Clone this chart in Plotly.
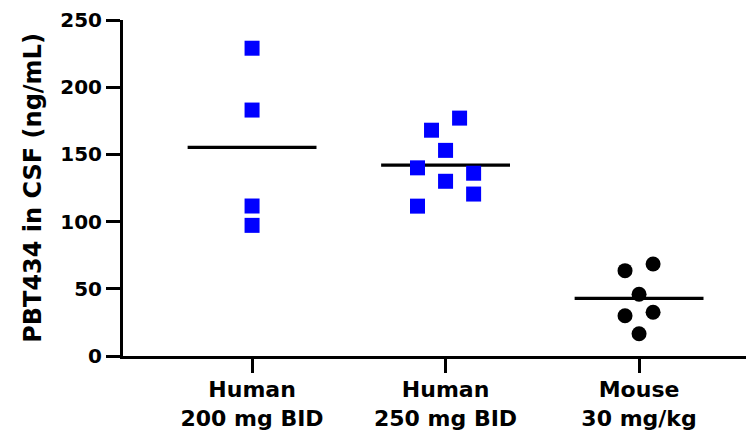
import numpy as np
import plotly.graph_objects as go

# ---- data ----
categories = ["Human<br>200 mg BID", "Human<br>250 mg BID", "Mouse<br>30 mg/kg"]
human_200 = [229, 183, 111.6, 97.2]
human_250 = [177, 168, 153, 140, 136, 130, 120.5, 111.5]
mouse_30 = [68.5, 63.5, 46, 32.5, 30, 16.5]
# swarm column of each point (how the points are spread sideways)
swarm_200 = [0, 0, 0, 0]
swarm_250 = [1, -1, 0, -2, 2, 0, 2, -2]
swarm_mouse = [1, -1, 0, 1, -1, 0]
y_ticks = [0, 50, 100, 150, 200, 250]

groups = [
    (human_200, swarm_200, "square", "#0000ff"),
    (human_250, swarm_250, "square", "#0000ff"),
    (mouse_30, swarm_mouse, "circle", "#000000"),
]

FONT = "DejaVu Sans, Liberation Sans, Arial, sans-serif"
COL_STEP = 0.0725
HALF = 0.333

fig = go.Figure()

# mean lines first (markers drawn on top)
for i, (vals, sw, sym, col) in enumerate(groups):
    m = float(np.mean(vals))
    fig.add_trace(go.Scatter(x=[i - HALF, i + HALF], y=[m, m], mode="lines",
                             line=dict(color="black", width=3.2),
                             hoverinfo="skip", showlegend=False))

for i, (vals, sw, sym, col) in enumerate(groups):
    xs = [i + c * COL_STEP for c in sw]
    fig.add_trace(go.Scatter(x=xs, y=vals, mode="markers",
                             marker=dict(symbol=sym, size=15, color=col,
                                         line=dict(width=0)),
                             showlegend=False))

# the page body adds an 8 px offset, so the figure is 8 px smaller
fig.update_layout(
    width=746, height=426,
    margin=dict(l=115, r=0, t=12, b=78, autoexpand=False),
    paper_bgcolor="white", plot_bgcolor="white",
    font=dict(family=FONT, color="black"),
)
fig.update_xaxes(
    range=[-0.667, 2.594], tickmode="array", tickvals=[0, 1, 2], ticktext=categories,
    showline=True, linecolor="black", linewidth=3,
    ticks="outside", ticklen=14, tickwidth=3, tickcolor="black",
    showgrid=False, zeroline=False, automargin=False, ticklabelstandoff=-2,
    tickfont=dict(family=FONT, size=22, weight="bold", color="black"),
)
fig.update_yaxes(
    range=[0, 250], tickmode="array", tickvals=y_ticks,
    showline=True, linecolor="black", linewidth=3,
    ticks="outside", ticklen=14, tickwidth=3, tickcolor="black",
    showgrid=False, zeroline=False, automargin=False,
    tickfont=dict(family=FONT, size=20, weight="bold", color="black"),
    title=dict(text="PBT434 in CSF (ng/mL)", standoff=12,
               font=dict(family=FONT, size=24, weight="bold", color="black")),
)

fig.write_html("out.html")
